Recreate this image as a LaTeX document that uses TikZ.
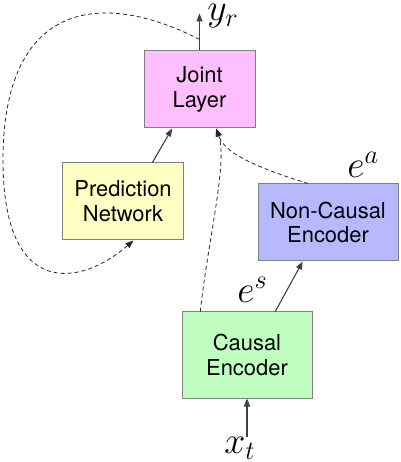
\documentclass[tikz,border=0pt]{standalone}
\usepackage{fontspec}
\setsansfont{TeX Gyre Heros}
\usepackage{tikz}
\usetikzlibrary{arrows.meta, positioning}

\definecolor{jointpink}{HTML}{FFBFFF}
\definecolor{predyellow}{HTML}{FFFFC4}
\definecolor{ncblue}{HTML}{B8B8FF}
\definecolor{causalgreen}{HTML}{C0FFC0}

\begin{document}
\begin{tikzpicture}[
    x=1bp, y=1bp, on grid,
    box/.style={rectangle, draw=black!50, line width=1bp, minimum height=77bp, align=center, inner sep=0pt, font=\sffamily\fontsize{22}{25}\selectfont},
    arrow/.style={-{Triangle[length=8bp, width=6bp]}, line width=1.1bp, draw=black!75},
    feed/.style={arrow, dash pattern=on 4bp off 3bp, draw=black!85, line width=0.8bp},
    sym/.style={inner sep=0pt, anchor=base west, font=\huge, scale=1.83}
]
    \useasboundingbox (0,0) rectangle (400,462);

    % Joint layer
    \node[box, minimum width=111bp, fill=jointpink] (joint) at (199.5,372.5) {Joint\\Layer};

    % Prediction network
    \node[box, minimum width=120bp, fill=predyellow, below left=112bp and 76.5bp of joint] (pred) {Prediction\\Network};

    % Encoders
    \node[box, minimum width=130bp, minimum height=86bp, fill=causalgreen, below right=265.5bp and 47.5bp of joint] (causal) {Causal\\Encoder};
    \node[box, minimum width=140bp, fill=ncblue, above right=132.5bp and 81bp of causal] (nc) {Non-Causal\\Encoder};

    % Input and output
    \coordinate[above=37bp of joint.north] (yout);
    \coordinate[below=38bp of causal.south] (xin);
    \node[sym] (ylab) at ([shift={(7.5bp,-7bp)}]yout) {$y_r$};
    \node[sym] (xlab) at ([shift={(-23bp,-17bp)}]xin) {$x_t$};
    \node[sym] (eslab) at ([shift={(-10bp,9bp)}]causal.north) {$e^s$};
    \node[sym] (ealab) at ([shift={(19bp,6bp)}]nc.north) {$e^a$};

    % Arrows
    \draw[arrow] (joint.north) -- coordinate[pos=0.3] (tap) (yout);
    \draw[arrow] (xin) -- (causal.south);
    \draw[arrow] (pred.53) -- (joint.235);
    \draw[arrow] (causal.57) -- (nc.237);

    % Dashed paths
    \draw[feed] (causal.137) .. controls +(84:70) and +(-70:35) .. (joint.293);
    \draw[feed] (nc.117) .. controls +(163:75) and +(-70:20) .. (joint.293);
    \coordinate (loopw) at (3,302);
    \draw[feed] (tap) .. controls +(153:115) and +(90:155) .. (loopw)
        .. controls +(-90:140) and +(221:70) .. (pred.285);
\end{tikzpicture}
\end{document}
